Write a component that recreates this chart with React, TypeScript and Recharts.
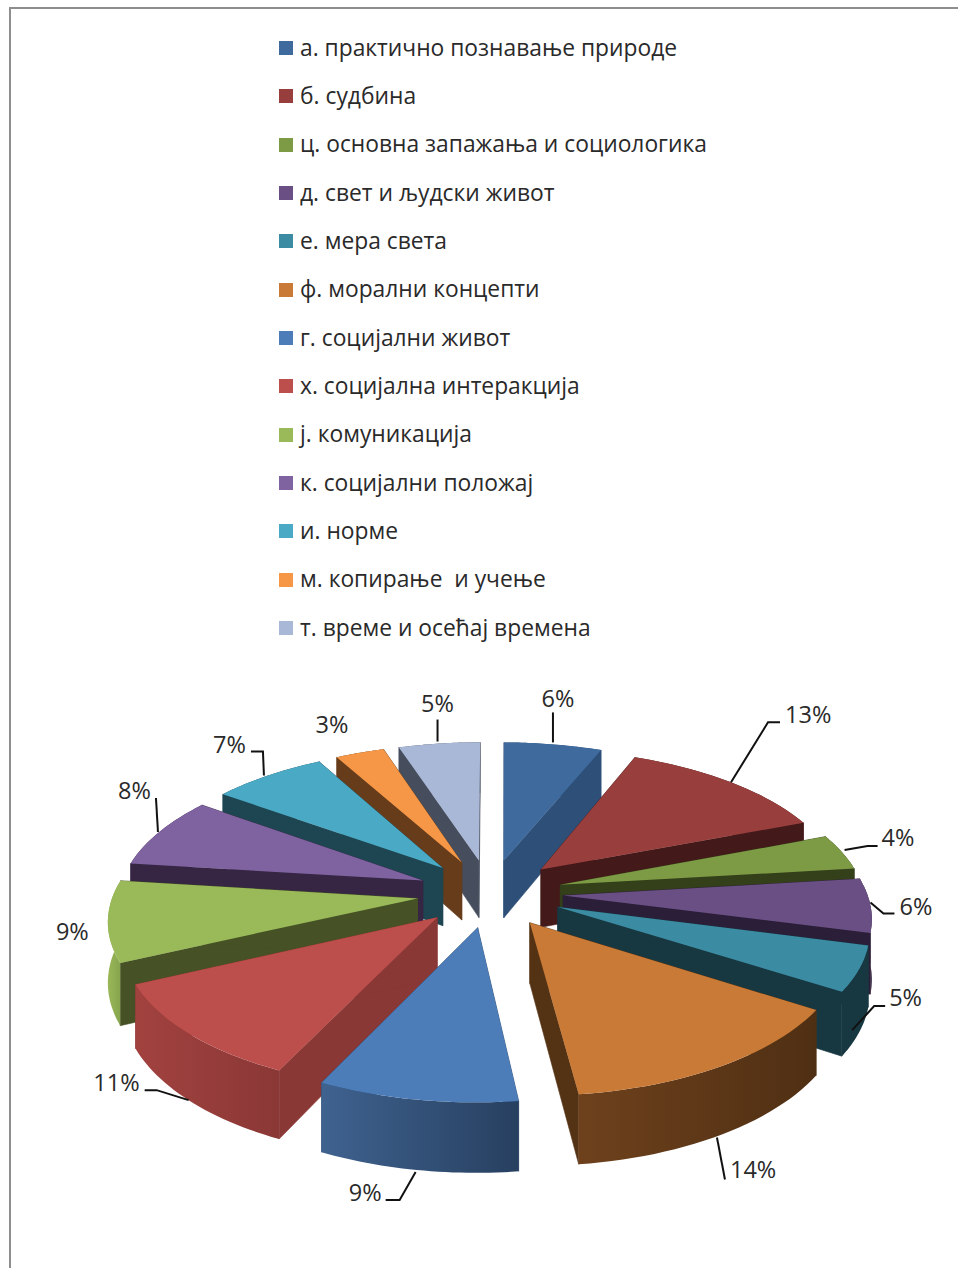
import React from "react";
import { PieChart, Pie, Legend } from "recharts";

// Chart data, in legend order, clockwise from twelve o'clock.
const categories = [
  "а. практично познавање природе",
  "б. судбина",
  "ц. основна запажања и социологика",
  "д. свет и људски живот",
  "е. мера света",
  "ф. морални концепти",
  "г. социјални живот",
  "х. социјална интеракција",
  "ј. комуникација",
  "к. социјални положај",
  "и. норме",
  "м. копирање  и учење",
  "т. време и осећај времена",
];
const shares = [6, 13, 4, 6, 5, 14, 9, 11, 9, 8, 7, 3, 5];

const topColors = ["#3E6A9E", "#983F3D", "#7D9A45", "#694F83", "#3B8CA3", "#C87A36", "#4C7DB9", "#BC4E4C", "#9ABA5A", "#7F63A0", "#4AAAC5", "#F59746", "#A9B8D6"];
const sideColors = ["#2E4F77", "#43191A", "#34401A", "#2B1E38", "#183841", "#543214", "#2D4A6F", "#8A3836", "#465225", "#362643", "#1E4652", "#673C1B", "#464E5E"];
const rimLeft = ["#2E4F77", "#43191A", "#34401A", "#2B1E38", "#183841", "#6E411C", "#3F628F", "#A2423F", "#9AB858", "#362643", "#1E4652", "#673C1B", "#464E5E"];
const rimRight = ["#2E4F77", "#43191A", "#34401A", "#2B1E38", "#183841", "#4F2F13", "#274060", "#8A3836", "#86A44D", "#362643", "#1E4652", "#673C1B", "#464E5E"];

// Leader lines and label placement, as offsets from each slice's outer-edge midpoint.
type Callout = { line: number[][]; text: number[]; anchor: "start" | "middle" | "end"; rim: boolean };
const callouts: Callout[] = [
  { line: [[-2, -2], [-2, -32]], text: [3, -46], anchor: "middle", rim: false },
  { line: [[-4, 0], [33, -60], [45, -60]], text: [50, -68], anchor: "start", rim: false },
  { line: [[-3, -2], [20, -6], [30, -6]], text: [34, -15], anchor: "start", rim: false },
  { line: [[-6, -3], [7, 8], [18, 8]], text: [23, 1], anchor: "start", rim: false },
  { line: [[-13, -2], [9, -26], [20, -26]], text: [24, -35], anchor: "start", rim: true },
  { line: [[-9, 3], [-1, 45]], text: [4, 35], anchor: "start", rim: true },
  { line: [[-1, 2], [-17, 30], [-31, 30]], text: [-35, 22], anchor: "end", rim: true },
  { line: [[3, 0], [-29, -10], [-41, -10]], text: [-46, -18], anchor: "end", rim: true },
  { line: [], text: [-15, 10], anchor: "end", rim: false },
  { line: [[2, 0], [0, -34]], text: [-5, -42], anchor: "end", rim: false },
  { line: [[-2, 0], [-3, -24], [-15, -24]], text: [-20, -32], anchor: "end", rim: false },
  { line: [], text: [-27, -29], anchor: "middle", rim: false },
  { line: [[-2, -2], [-2, -24]], text: [-2, -41], anchor: "middle", rim: false },
];

const rows = categories.map((name, slot) => ({ name, value: shares[slot], slot }));
// The two halves are painted separately, far slices first, so nearer ones overlap them.
const rightCount = 7;
const rightRows = rows.slice(0, rightCount);
const leftRows = rows.slice(rightCount).reverse();
const degreesOf = (list: typeof rows) => list.reduce((sum, r) => sum + r.value, 0) * 3.6;

const CENTER_X = 490;
const CENTER_Y = 893;
const RADIUS = 308;
const EXPLODE = 74;
const THICKNESS = 59;
const TILT = 0.46;
const VIEW_DISTANCE = 2340;
const WIDTH_SCALE = 0.987;
const RIGHT_START = 89.6;
const FONT = "'Open Sans', sans-serif";
const INK = "#2a2a2a";

// Ground-plane point (x to the right, y toward the viewer) to page position.
function project(cx: number, cy: number, x: number, y: number, drop = 0, widthScale = WIDTH_SCALE) {
  const p = 1 / (1 - y / VIEW_DISTANCE);
  return [cx + x * p * widthScale, cy + y * TILT * p + drop * p];
}

const toPath = (pts: number[][]) =>
  pts.map((q, i) => `${i ? "L" : "M"}${q[0].toFixed(1)} ${q[1].toFixed(1)}`).join("") + "Z";

function Wedge(props: any) {
  const { cx, cy, startAngle, endAngle, outerRadius } = props;
  const slot: number = props.payload?.slot ?? props.slot;
  const a1 = 90 - Math.max(startAngle, endAngle);
  const a2 = 90 - Math.min(startAngle, endAngle);
  const rad = (d: number) => (d * Math.PI) / 180;
  const mid = rad((a1 + a2) / 2);
  const ox = EXPLODE * Math.sin(mid);
  const oy = -EXPLODE * Math.cos(mid);
  const arc: number[][] = [];
  const steps = 28;
  for (let i = 0; i <= steps; i++) {
    const t = rad(a1 + ((a2 - a1) * i) / steps);
    arc.push([ox + outerRadius * Math.sin(t), oy - outerRadius * Math.cos(t)]);
  }
  const upper = arc.map((q) => project(cx, cy, q[0], q[1]));
  const lower = arc.map((q) => project(cx, cy, q[0], q[1], THICKNESS));
  const tip = project(cx, cy, ox, oy);
  const tipLow = project(cx, cy, ox, oy, THICKNESS);
  const rimId = `rim-${slot}`;
  const last = upper.length - 1;
  const side = sideColors[slot];
  return (
    <g>
      <defs>
        <linearGradient id={rimId} x1="0" y1="0" x2="1" y2="0">
          <stop offset="0" stopColor={rimLeft[slot]} />
          <stop offset="1" stopColor={rimRight[slot]} />
        </linearGradient>
      </defs>
      <path d={toPath([tip, upper[0], lower[0], tipLow])} fill={side} stroke={side} strokeWidth={0.6} />
      <path d={toPath([tip, upper[last], lower[last], tipLow])} fill={side} stroke={side} strokeWidth={0.6} />
      <path d={toPath([...upper, ...[...lower].reverse()])} fill={`url(#${rimId})`} />
      <path d={toPath([tip, ...upper])} fill={topColors[slot]} />
    </g>
  );
}

function Callout(props: any) {
  const { cx, cy, midAngle, outerRadius, payload } = props;
  const slot: number = payload?.slot ?? props.slot;
  const c = callouts[slot];
  const t = ((90 - midAngle) * Math.PI) / 180;
  const reach = outerRadius + EXPLODE;
  const base = project(cx + 1, cy, reach * Math.sin(t), -reach * Math.cos(t), c.rim ? THICKNESS : 0, 1);
  const pts = c.line.map((o) => `${base[0] + o[0]},${base[1] + o[1]}`).join(" ");
  return (
    <g>
      {c.line.length > 0 && <polyline points={pts} fill="none" stroke="#111" strokeWidth={2} />}
      <text
        x={base[0] + c.text[0]}
        y={base[1] + c.text[1]}
        textAnchor={c.anchor}
        dominantBaseline="central"
        fontFamily={FONT}
        fontSize={23.5}
        fill={INK}
      >
        {`${shares[slot]}%`}
      </text>
    </g>
  );
}

function LegendList() {
  return (
    <div style={{ fontFamily: FONT, fontSize: 22.8, color: INK }}>
      {categories.map((name, i) => (
        <div key={name} style={{ height: 48.33, display: "flex", alignItems: "center", whiteSpace: "pre" }}>
          <span style={{ width: 14, height: 14, background: topColors[i], marginRight: 7, flex: "none" }} />
          <span style={{ position: "relative", top: -1 }}>{name}</span>
        </div>
      ))}
    </div>
  );
}

export default function App() {
  return (
    <div style={{ position: "absolute", left: 0, top: 0, width: 958, height: 1268, overflow: "hidden", background: "#fff" }}>
      <div style={{ position: "absolute", left: 9, top: 7, right: -4, bottom: -4, borderLeft: "2px solid #8e8e8e", borderTop: "2px solid #8e8e8e" }} />
      <PieChart width={958} height={1268} margin={{ top: 0, right: 0, bottom: 0, left: 0 }} style={{ position: "absolute", left: 0, top: 0 }}>
        <Legend
          layout="vertical"
          align="center"
          verticalAlign="middle"
          content={<LegendList />}
          wrapperStyle={{ left: 279, top: 24, width: 560 }}
        />
        <Pie
          data={leftRows}
          dataKey="value"
          nameKey="name"
          cx={CENTER_X}
          cy={CENTER_Y}
          outerRadius={RADIUS}
          startAngle={90}
          endAngle={90 + degreesOf(leftRows)}
          isAnimationActive={false}
          stroke="none"
          shape={Wedge}
          activeShape={Wedge}
          inactiveShape={Wedge}
          label={Callout}
          labelLine={false}
        />
        <Pie
          data={rightRows}
          dataKey="value"
          nameKey="name"
          cx={CENTER_X}
          cy={CENTER_Y}
          outerRadius={RADIUS}
          startAngle={RIGHT_START}
          endAngle={RIGHT_START - degreesOf(rightRows)}
          isAnimationActive={false}
          stroke="none"
          shape={Wedge}
          activeShape={Wedge}
          inactiveShape={Wedge}
          label={Callout}
          labelLine={false}
        />
      </PieChart>
    </div>
  );
}
